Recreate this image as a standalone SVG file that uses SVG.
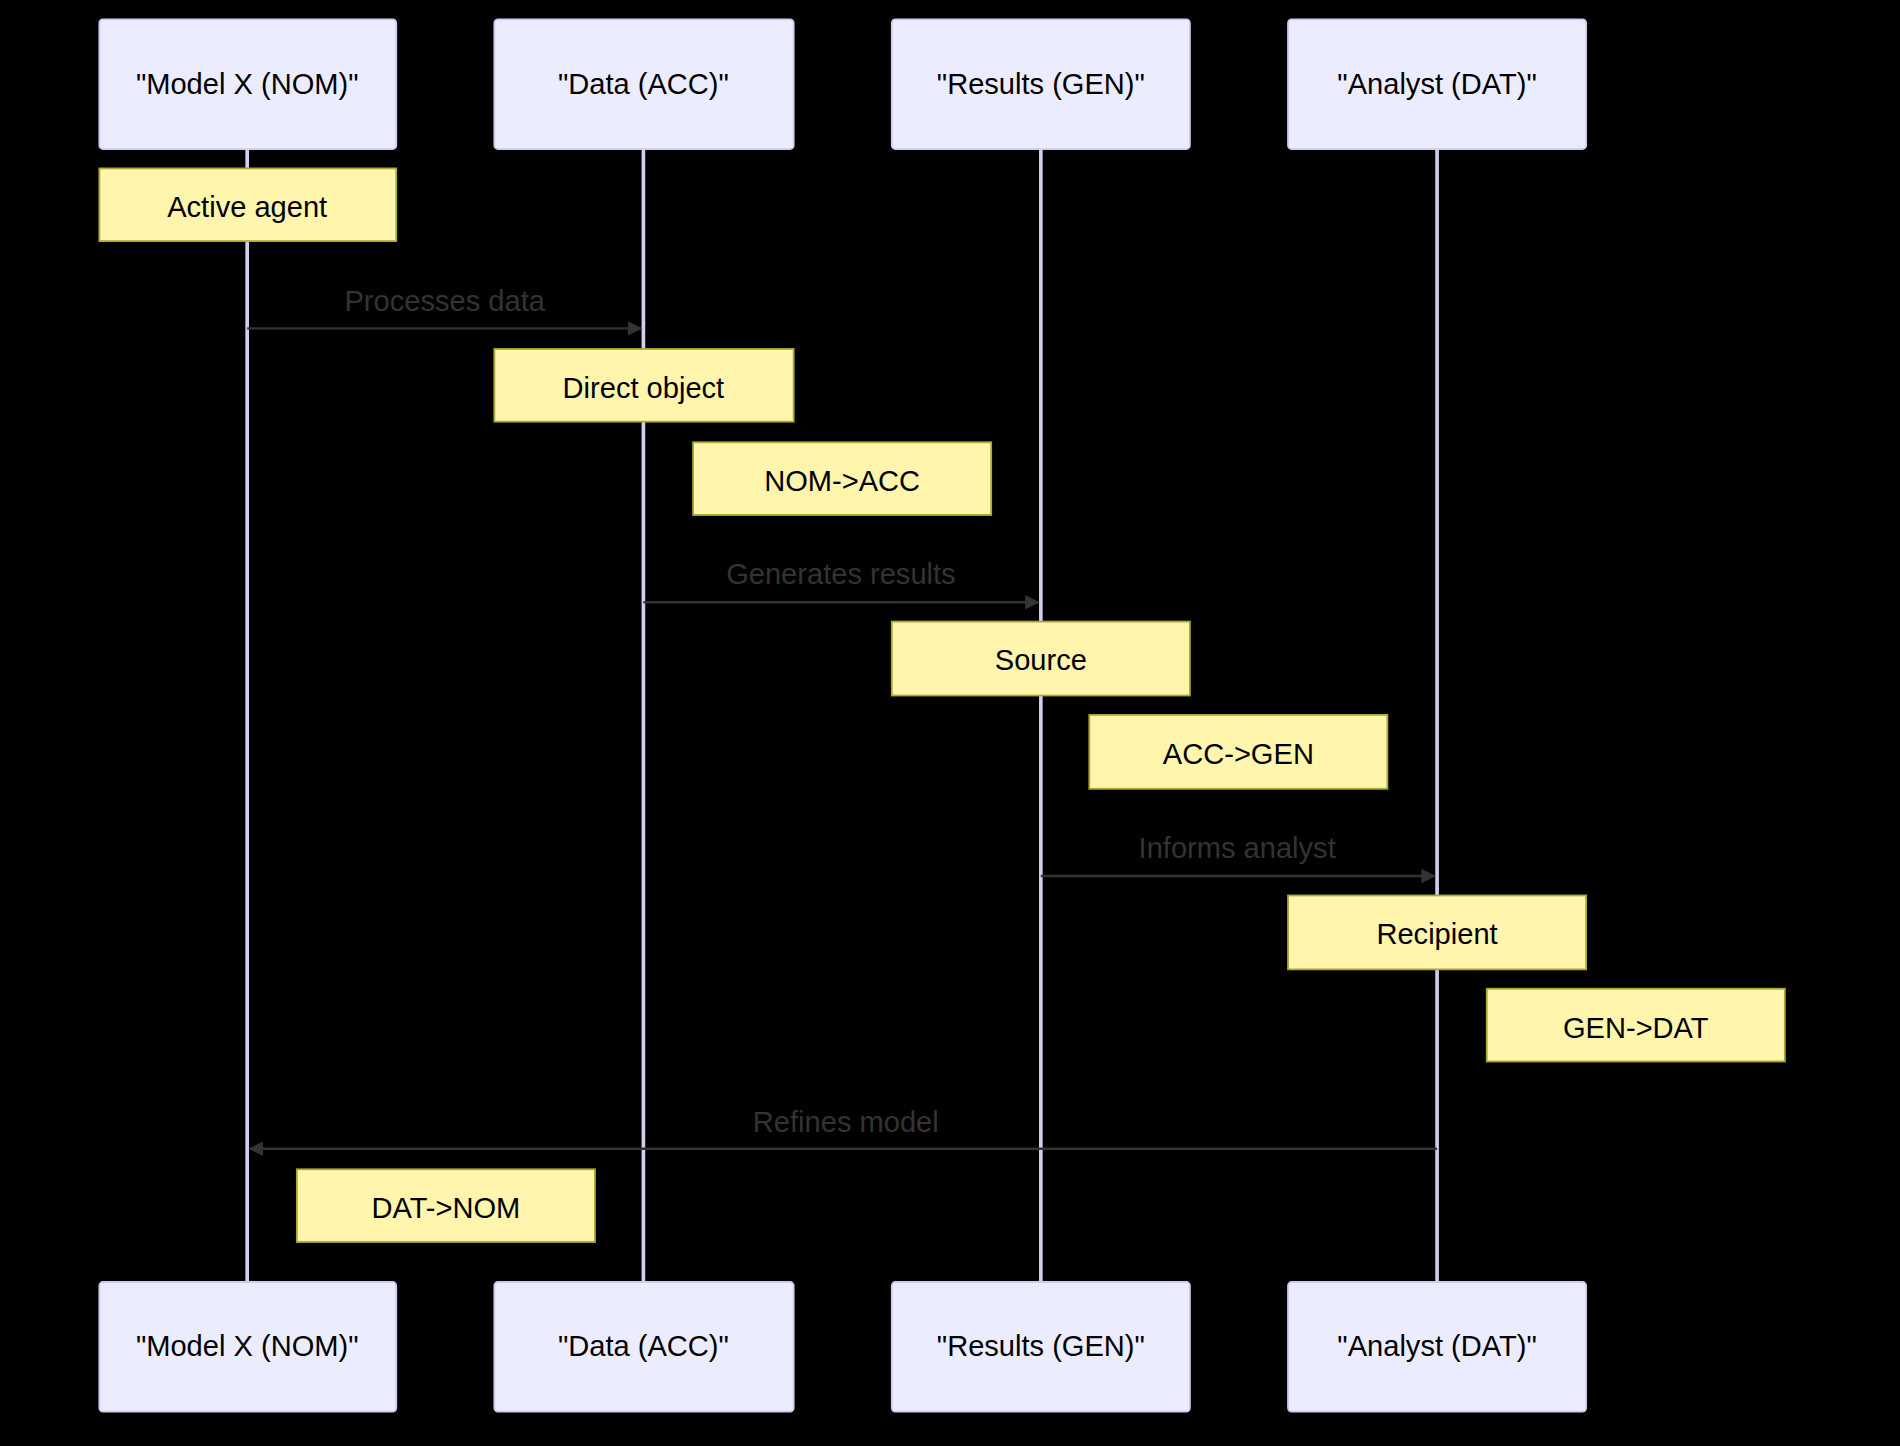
<svg xmlns="http://www.w3.org/2000/svg" width="1900" height="1446" viewBox="0 0 1900 1446">
<defs>
<style>
.actor{fill:#ececff;stroke:#ccccee;stroke-width:1.5}
.at{font-family:"Liberation Sans",Arial,sans-serif;font-size:24px;fill:#000;text-anchor:middle;dominant-baseline:central}
.note{fill:#fff5ad;stroke:#aaaa33;stroke-width:1.5}
.life{stroke:#d6cdf0;stroke-width:3}
.msg{stroke:#333;stroke-width:2;fill:none}
.mt{font-family:"Liberation Sans",Arial,sans-serif;font-size:24px;fill:#333;text-anchor:middle}
</style>
<marker id="ah" viewBox="0 0 12 12" refX="11" refY="6" markerWidth="12" markerHeight="12" markerUnits="userSpaceOnUse" orient="auto"><path d="M0,0 L12,6 L0,12 z" fill="#333"/></marker>
</defs>
<rect width="1900" height="1446" fill="#000"/>
<g transform="scale(1.2117)">
<g id="lifelines">
<line class="life" x1="204" y1="123" x2="204" y2="1058"/>
<line class="life" x1="531" y1="123" x2="531" y2="1058"/>
<line class="life" x1="859" y1="123" x2="859" y2="1058"/>
<line class="life" x1="1186" y1="123" x2="1186" y2="1058"/>
</g>
<g id="actor-nom"><rect class="actor" x="82" y="16" width="245" height="107" rx="3"/><text class="at" x="204" y="69">"Model X (NOM)"</text></g>
<g id="actor-acc"><rect class="actor" x="408" y="16" width="247" height="107" rx="3"/><text class="at" x="531" y="69">"Data (ACC)"</text></g>
<g id="actor-gen"><rect class="actor" x="736" y="16" width="246" height="107" rx="3"/><text class="at" x="859" y="69">"Results (GEN)"</text></g>
<g id="actor-dat"><rect class="actor" x="1063" y="16" width="246" height="107" rx="3"/><text class="at" x="1186" y="69">"Analyst (DAT)"</text></g>
<g id="actor-nom-b"><rect class="actor" x="82" y="1058" width="245" height="107" rx="3"/><text class="at" x="204" y="1111">"Model X (NOM)"</text></g>
<g id="actor-acc-b"><rect class="actor" x="408" y="1058" width="247" height="107" rx="3"/><text class="at" x="531" y="1111">"Data (ACC)"</text></g>
<g id="actor-gen-b"><rect class="actor" x="736" y="1058" width="246" height="107" rx="3"/><text class="at" x="859" y="1111">"Results (GEN)"</text></g>
<g id="actor-dat-b"><rect class="actor" x="1063" y="1058" width="246" height="107" rx="3"/><text class="at" x="1186" y="1111">"Analyst (DAT)"</text></g>
<g id="note1"><rect class="note" x="82" y="139" width="245" height="60"/><text class="at" x="204" y="171">Active agent</text></g>
<g id="note2"><rect class="note" x="408" y="288" width="247" height="60"/><text class="at" x="531" y="320">Direct object</text></g>
<g id="note3"><rect class="note" x="572" y="365" width="246" height="60"/><text class="at" x="695" y="397">NOM-&gt;ACC</text></g>
<g id="note4"><rect class="note" x="736" y="513" width="246" height="61"/><text class="at" x="859" y="545">Source</text></g>
<g id="note5"><rect class="note" x="899" y="590" width="246" height="61"/><text class="at" x="1022" y="622">ACC-&gt;GEN</text></g>
<g id="note6"><rect class="note" x="1063" y="739" width="246" height="61"/><text class="at" x="1186" y="771">Recipient</text></g>
<g id="note7"><rect class="note" x="1227" y="816" width="246" height="60"/><text class="at" x="1350" y="848">GEN-&gt;DAT</text></g>
<g id="note8"><rect class="note" x="245" y="965" width="246" height="60"/><text class="at" x="368" y="997">DAT-&gt;NOM</text></g>
<g id="connectors">
<line class="msg" x1="204" y1="271" x2="529" y2="271" marker-end="url(#ah)"/>
<text class="mt" x="367" y="257">Processes data</text>
<line class="msg" x1="531" y1="497" x2="857" y2="497" marker-end="url(#ah)"/>
<text class="mt" x="694" y="482">Generates results</text>
<line class="msg" x1="859" y1="723" x2="1184" y2="723" marker-end="url(#ah)"/>
<text class="mt" x="1021" y="708">Informs analyst</text>
<line class="msg" x1="1186" y1="948" x2="206" y2="948" marker-end="url(#ah)"/>
<text class="mt" x="698" y="934">Refines model</text>
</g>
</g>
</svg>
